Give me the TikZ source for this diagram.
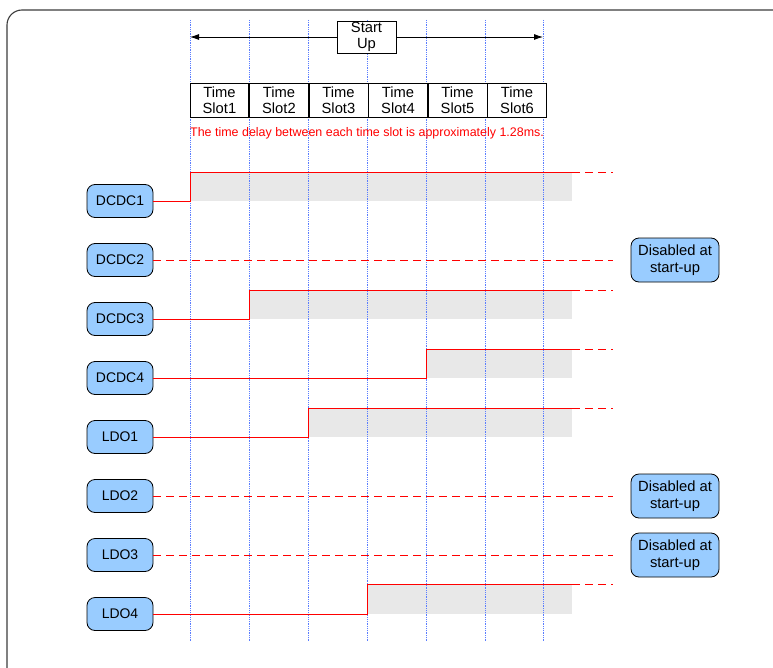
\documentclass[tikz,border=0pt]{standalone}
\usepackage{fontspec}
\setmainfont{Liberation Sans}
\usetikzlibrary{positioning,arrows.meta}

\definecolor{railblue}{RGB}{153,204,255}
\definecolor{gridblue}{RGB}{90,125,255}
\definecolor{shadegray}{RGB}{232,232,232}
\definecolor{framegray}{RGB}{60,60,60}

\begin{document}
\begin{tikzpicture}[
    x=1bp, y=-1bp,
    font=\fontsize{14}{16}\selectfont,
    rail/.style={
        draw,
        rounded corners=8bp,
        fill=railblue,
        line width=0.8pt,
        minimum width=66bp,
        minimum height=33bp,
        inner sep=0pt
    },
    offbox/.style={rail, minimum width=88bp, minimum height=44bp, align=center,
        font=\fontsize{14.8}{16.8}\selectfont},
    slot/.style={draw, fill=white, line width=0.7pt, minimum width=58.83bp,
        minimum height=34bp, inner sep=0pt, align=center,
        font=\fontsize{14.8}{15.8}\selectfont},
    vline/.style={densely dotted, draw=gridblue, line width=0.8pt},
    sig/.style={draw=red, line width=0.9pt},
    offsig/.style={sig, dash pattern=on 8bp off 5bp},
    shade/.style={fill=shadegray},
    note/.style={text=red, font=\fontsize{12.5}{14}\selectfont, inner sep=0pt}
]
\clip (0,0) rectangle (773,668);

% ============================================================
% FRAME
% ============================================================
\draw[framegray, line width=1.1pt, rounded corners=15bp] (7,10) rectangle (800,700);

% ============================================================
% SIGNAL COORDINATES
% ============================================================
\coordinate (dcdc1on)  at (190,172);
\coordinate (dcdc1hi)  at (572,172);
\coordinate (dcdc1end) at (613,172);

\coordinate (dcdc3on)  at (249,290);
\coordinate (dcdc3hi)  at (572,290);
\coordinate (dcdc3end) at (613,290);

\coordinate (dcdc4on)  at (426,349);
\coordinate (dcdc4hi)  at (572,349);
\coordinate (dcdc4end) at (613,349);

\coordinate (ldo1on)   at (308,408);
\coordinate (ldo1hi)   at (572,408);
\coordinate (ldo1end)  at (613,408);

\coordinate (ldo4on)   at (367,584);
\coordinate (ldo4hi)   at (572,584);
\coordinate (ldo4end)  at (613,584);

\coordinate (dcdc2end) at (613,260);
\coordinate (ldo2end)  at (613,496);
\coordinate (ldo3end)  at (613,555);

% enabled-window shading
\fill[shade] (dcdc1on) rectangle (572,201);
\fill[shade] (dcdc3on) rectangle (572,319);
\fill[shade] (dcdc4on) rectangle (572,378);
\fill[shade] (ldo1on)  rectangle (572,437);
\fill[shade] (ldo4on)  rectangle (572,614);

% slot boundaries
\foreach \x in {190,249,308,367,426,485,543}
    \draw[vline] (\x,20) -- (\x,642);

% ============================================================
% NODES
% ============================================================
\node[slot, minimum width=59bp, minimum height=32bp] (startup) at (366.5,37) {Start\\Up};
\coordinate (suleft)  at (190,37);
\coordinate (suright) at (543,37);

\node[slot] (ts1) at (219.4,100) {Time\\Slot1};
\node[slot, right=0pt of ts1] (ts2) {Time\\Slot2};
\node[slot, right=0pt of ts2] (ts3) {Time\\Slot3};
\node[slot, right=0pt of ts3] (ts4) {Time\\Slot4};
\node[slot, right=0pt of ts4] (ts5) {Time\\Slot5};
\node[slot, right=0pt of ts5] (ts6) {Time\\Slot6};

\node[note, anchor=west] (delay) at (190,133)
    {The time delay between each time slot is approximately 1.28ms.};

\node[rail] (dcdc1) at (120,201) {DCDC1};
\node[rail] (dcdc2) at (120,260) {DCDC2};
\node[rail] (dcdc3) at (120,319) {DCDC3};
\node[rail] (dcdc4) at (120,378) {DCDC4};
\node[rail] (ldo1)  at (120,437) {LDO1};
\node[rail] (ldo2)  at (120,496) {LDO2};
\node[rail] (ldo3)  at (120,555) {LDO3};
\node[rail] (ldo4)  at (120,614) {LDO4};

\node[offbox] (dcdc2off) at (675,260) {Disabled at\\start-up};
\node[offbox] (ldo2off)  at (675,496) {Disabled at\\start-up};
\node[offbox] (ldo3off)  at (675,555) {Disabled at\\start-up};

% ============================================================
% EDGES
% ============================================================
\draw[-{Latex[length=9bp,width=6bp]}, line width=0.8pt] (startup.west) -- (suleft);
\draw[-{Latex[length=9bp,width=6bp]}, line width=0.8pt] (startup.east) -- (suright);

\draw[sig] (dcdc1.east) -| (dcdc1on) -- (dcdc1hi);
\draw[offsig] (dcdc1hi) -- (dcdc1end);

\draw[offsig] (dcdc2.east) -- (dcdc2end);

\draw[sig] (dcdc3.east) -| (dcdc3on) -- (dcdc3hi);
\draw[offsig] (dcdc3hi) -- (dcdc3end);

\draw[sig] (dcdc4.east) -| (dcdc4on) -- (dcdc4hi);
\draw[offsig] (dcdc4hi) -- (dcdc4end);

\draw[sig] (ldo1.east) -| (ldo1on) -- (ldo1hi);
\draw[offsig] (ldo1hi) -- (ldo1end);

\draw[offsig] (ldo2.east) -- (ldo2end);
\draw[offsig] (ldo3.east) -- (ldo3end);

\draw[sig] (ldo4.east) -| (ldo4on) -- (ldo4hi);
\draw[offsig] (ldo4hi) -- (ldo4end);

\end{tikzpicture}
\end{document}
